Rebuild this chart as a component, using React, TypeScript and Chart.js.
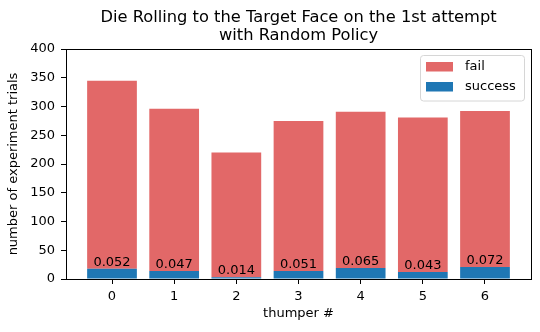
import React, { useEffect, useRef } from "react";
import { Chart, registerables } from "chart.js";

Chart.register(...registerables);

const categories = ["0", "1", "2", "3", "4", "5", "6"];
const totals = [345, 296, 220, 275, 291, 281, 292];
const successes = [18, 14, 3, 14, 19, 12, 21];
const rateLabels = ["0.052", "0.047", "0.014", "0.051", "0.065", "0.043", "0.072"];
const titleLines = ["Die Rolling to the Target Face on the 1st attempt", "with Random Policy"];
const xTitle = "thumper #";
const yTitle = "number of experiment trials";
const seriesNames = ["fail", "success"];

const FAIL_COLOR = "rgb(226,104,104)";
const SUCCESS_COLOR = "#1f77b4";
const FONT = "'DejaVu Sans', sans-serif";

const decorPlugin = {
  id: "decor",
  afterDraw(chart: any) {
    const ctx = chart.ctx as CanvasRenderingContext2D;
    const { left, right, top, bottom } = chart.chartArea;
    const xs = chart.scales.x;
    const ys = chart.scales.y;
    ctx.save();
    ctx.strokeStyle = "#000";
    ctx.lineWidth = 1;
    ctx.strokeRect(Math.round(left) + 0.5, Math.round(top) + 0.5, Math.round(right - left), Math.round(bottom - top));

    ctx.fillStyle = "#000";
    ctx.font = `13px ${FONT}`;
    ctx.textAlign = "center";
    ctx.textBaseline = "alphabetic";
    successes.forEach((s, i) => {
      const px = xs.getPixelForValue(i);
      const py = ys.getPixelForValue(s);
      ctx.fillText(rateLabels[i], px, py - 3);
    });

    const cx = (left + right) / 2;
    ctx.font = `16.3px ${FONT}`;
    ctx.fillText(titleLines[0], cx, 22);
    ctx.fillText(titleLines[1], cx, 40);

    ctx.font = `13px ${FONT}`;
    ctx.textBaseline = "middle";
    ctx.fillText(xTitle, cx, 314);
    ctx.save();
    ctx.translate(14, (top + bottom) / 2);
    ctx.rotate(-Math.PI / 2);
    ctx.fillText(yTitle, 0, 0);
    ctx.restore();

    const lx = 420.5, ly = 55.5, lw = 104, lh = 45.5, r = 3;
    ctx.beginPath();
    ctx.moveTo(lx + r, ly);
    ctx.lineTo(lx + lw - r, ly);
    ctx.quadraticCurveTo(lx + lw, ly, lx + lw, ly + r);
    ctx.lineTo(lx + lw, ly + lh - r);
    ctx.quadraticCurveTo(lx + lw, ly + lh, lx + lw - r, ly + lh);
    ctx.lineTo(lx + r, ly + lh);
    ctx.quadraticCurveTo(lx, ly + lh, lx, ly + lh - r);
    ctx.lineTo(lx, ly + r);
    ctx.quadraticCurveTo(lx, ly, lx + r, ly);
    ctx.closePath();
    ctx.fillStyle = "rgba(255,255,255,0.8)";
    ctx.fill();
    ctx.strokeStyle = "#d6d6d6";
    ctx.stroke();
    const colors = [FAIL_COLOR, SUCCESS_COLOR];
    ctx.textAlign = "left";
    seriesNames.forEach((name, i) => {
      const yy = 62 + i * 20;
      ctx.fillStyle = colors[i];
      ctx.fillRect(426, yy, 27, 9.5);
      ctx.fillStyle = "#000";
      ctx.fillText(name, 465, yy + 5);
    });
    ctx.restore();
  },
};

export default function App() {
  const ref = useRef<HTMLCanvasElement>(null);
  useEffect(() => {
    if (!ref.current) return;
    const failRemainder = totals.map((t, i) => t - successes[i]);
    const chart = new Chart(ref.current, {
      type: "bar",
      data: {
        datasets: [
          {
            label: seriesNames[1],
            data: successes.map((v, i) => ({ x: i, y: v })),
            backgroundColor: SUCCESS_COLOR,
            borderWidth: 0,
            barPercentage: 0.8,
            categoryPercentage: 1.0,
          },
          {
            label: seriesNames[0],
            data: failRemainder.map((v, i) => ({ x: i, y: v })),
            backgroundColor: FAIL_COLOR,
            borderWidth: 0,
            barPercentage: 0.8,
            categoryPercentage: 1.0,
          },
        ],
      },
      options: {
        animation: false,
        responsive: false,
        maintainAspectRatio: false,
        layout: { padding: { top: 49, right: 9, left: 0, bottom: 0 } },
        plugins: {
          legend: { display: false },
          title: { display: false },
          tooltip: { enabled: false },
        },
        scales: {
          x: {
            type: "linear",
            stacked: true,
            offset: false,
            min: -0.74,
            max: 6.74,
            afterFit: (s: any) => {
              s.height = 53;
            },
            afterBuildTicks: (s: any) => {
              s.ticks = categories.map((_, i) => ({ value: i }));
            },
            ticks: {
              callback: (v: any) => categories[v] ?? "",
              font: { family: FONT, size: 13 },
              color: "#000",
              padding: 5,
              maxRotation: 0,
            },
            grid: { display: true, offset: false, drawOnChartArea: false, drawTicks: true, tickLength: 5, color: "#000" },
            border: { display: true, color: "#000" },
          },
          y: {
            stacked: true,
            min: 0,
            max: 400,
            afterFit: (s: any) => {
              s.width = 66;
            },
            ticks: {
              stepSize: 50,
              font: { family: FONT, size: 13 },
              color: "#000",
              padding: 6,
            },
            grid: { display: true, drawOnChartArea: false, drawTicks: true, tickLength: 5, color: "#000" },
            border: { display: true, color: "#000" },
          },
        },
      },
      plugins: [decorPlugin],
    });
    return () => chart.destroy();
  }, []);
  return (
    <div style={{ position: "absolute", left: 0, top: 0, width: 540, height: 332, background: "#fff" }}>
      <canvas ref={ref} width={540} height={332} />
    </div>
  );
}
